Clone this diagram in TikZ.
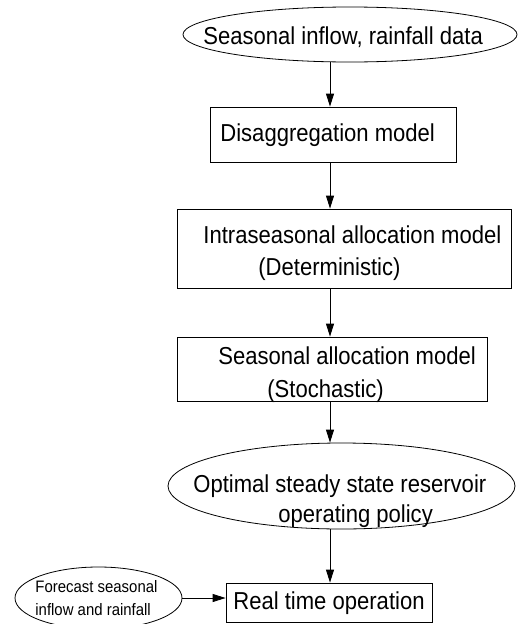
\documentclass[tikz,border=0pt]{standalone}
\usepackage{fontspec}
\setmainfont[FakeStretch=0.9]{Liberation Sans}
\usetikzlibrary{shapes.geometric,arrows.meta}
\tikzset{
  every picture/.style={line width=0.8pt},
  boxnode/.style={draw, rectangle, inner sep=0pt},
  ovalnode/.style={draw, ellipse, inner sep=0pt},
  txt/.style={anchor=base west, inner sep=0pt, font=\fontsize{24.5}{28}\selectfont},
  smalltxt/.style={anchor=base west, inner sep=0pt, font=\fontsize{16.6}{19}\selectfont},
  arr/.style={-{Triangle[length=13pt,width=8pt]}}
}
\begin{document}
\begin{tikzpicture}[x=1pt,y=-1pt]
\useasboundingbox (0,0) rectangle (518,624);
% shapes
\node[ovalnode, minimum width=334pt, minimum height=55pt] (top) at (350,34.5) {};
\node[boxnode, minimum width=246pt, minimum height=55pt] (dis) at (333,134.5) {};
\node[boxnode, minimum width=334pt, minimum height=79pt] (intra) at (344,248.5) {};
\node[boxnode, minimum width=310pt, minimum height=64pt] (seas) at (332,369) {};
\node[ovalnode, minimum width=347pt, minimum height=86pt] (opt) at (341.5,486) {};
\node[boxnode, minimum width=206pt, minimum height=39pt] (rt) at (329,602.5) {};
\node[ovalnode, minimum width=167pt, minimum height=62pt] (fc) at (98.5,598) {};
% texts
\node[txt] (t1) at (203,44) {Seasonal inflow, rainfall data};
\node[txt] (t2) at (220,141) {Disaggregation model};
\node[txt] (t3a) at (203,243) {Intraseasonal allocation model};
\node[txt] (t3b) at (258,275) {(Deterministic)};
\node[txt] (t4a) at (218,364) {Seasonal allocation model};
\node[txt] (t4b) at (267,397) {(Stochastic)};
\node[txt] (t5a) at (193,492) {Optimal steady state reservoir};
\node[txt] (t5b) at (278,522) {operating policy};
\node[txt] (t6) at (233,609) {Real time operation};
\node[smalltxt] (t7a) at (35,592) {Forecast seasonal};
\node[smalltxt] (t7b) at (35,615) {inflow and rainfall};
% connectors
\coordinate (ax) at (330,0);
\draw[arr] (top.south -| ax) -- (dis.north -| ax);
\draw[arr] (dis.south -| ax) -- (intra.north -| ax);
\draw[arr] (intra.south -| ax) -- (seas.north -| ax);
\draw[arr] (seas.south -| ax) -- (opt.north -| ax);
\draw[arr] (opt.south -| ax) -- (rt.north -| ax);
\draw[arr] (fc.east) -- (fc.east -| rt.west);
\end{tikzpicture}
\end{document}
